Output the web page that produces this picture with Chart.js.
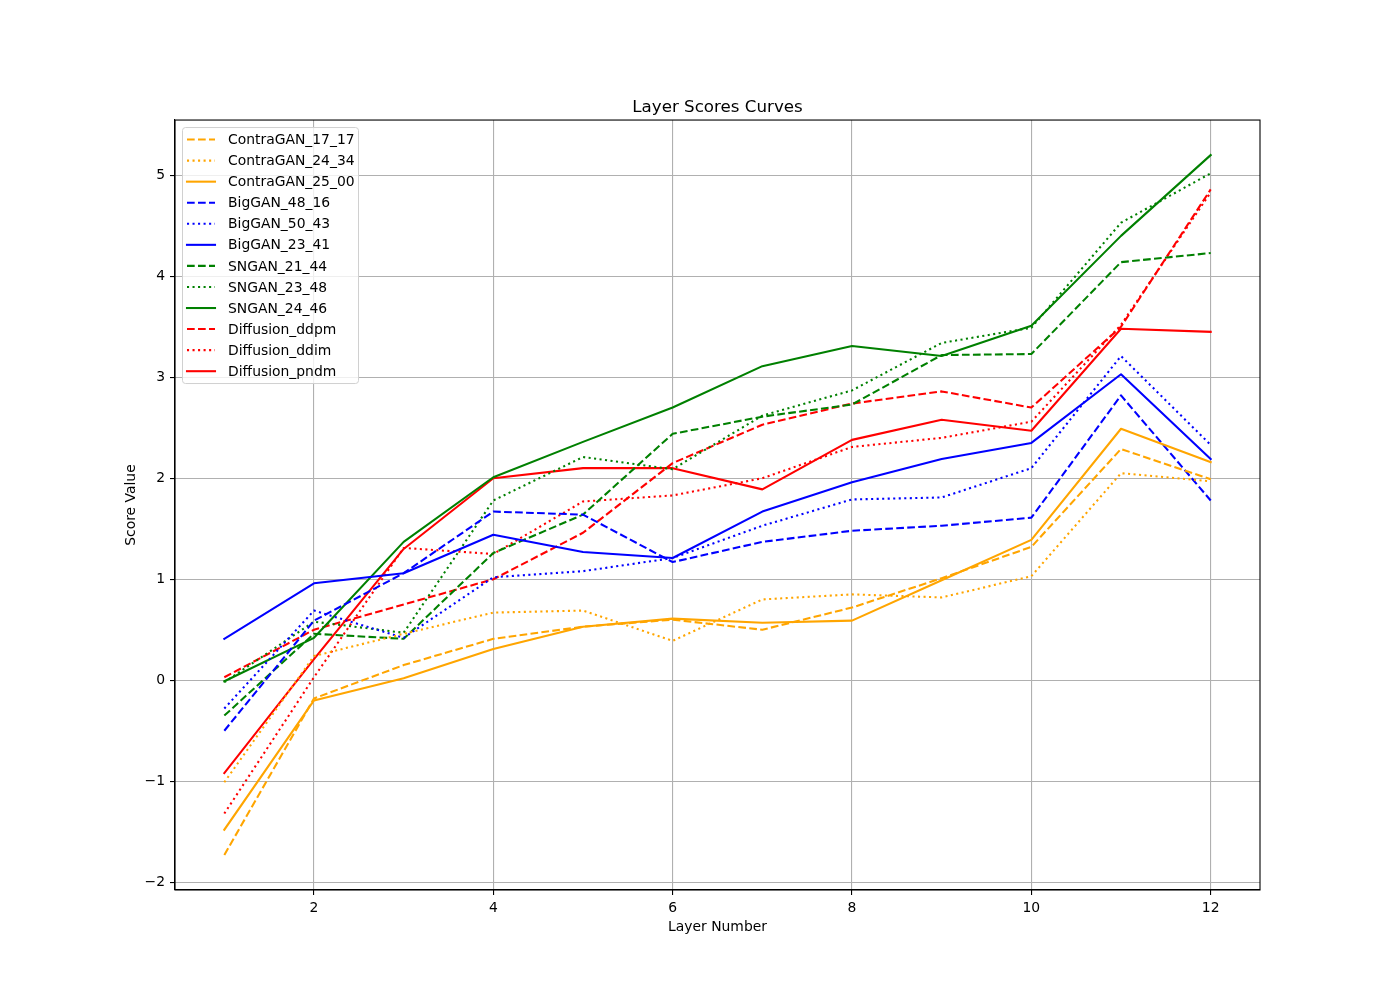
<!DOCTYPE html>
<html>
<head>
<meta charset="utf-8">
<title>Layer Scores Curves</title>
<script src="https://cdn.jsdelivr.net/npm/chart.js@4/dist/chart.umd.min.js"></script>
<style>
body { margin: 0; background: #fff; }
</style>
</head>
<body>
<canvas id="layerScores" width="1400" height="1000"></canvas>
<script>
// data
var layers = [1, 2, 3, 4, 5, 6, 7, 8, 9, 10, 11, 12];
var xTicks = [2, 4, 6, 8, 10, 12];
var yTicks = [-2, -1, 0, 1, 2, 3, 4, 5];

var contraGAN_17_17 = [-1.73, -0.18, 0.15, 0.41, 0.53, 0.60, 0.50, 0.72, 1.01, 1.32, 2.29, 1.99];
var contraGAN_24_34 = [-1.01, 0.24, 0.46, 0.67, 0.69, 0.39, 0.80, 0.85, 0.82, 1.03, 2.05, 1.97];
var contraGAN_25_00 = [-1.48, -0.20, 0.02, 0.31, 0.53, 0.61, 0.57, 0.59, 0.99, 1.39, 2.49, 2.16];
var bigGAN_48_16 = [-0.50, 0.59, 1.06, 1.67, 1.64, 1.17, 1.37, 1.48, 1.53, 1.61, 2.82, 1.78];
var bigGAN_50_43 = [-0.28, 0.69, 0.42, 1.02, 1.08, 1.21, 1.53, 1.79, 1.81, 2.10, 3.21, 2.33];
var bigGAN_23_41 = [0.41, 0.96, 1.06, 1.44, 1.27, 1.21, 1.67, 1.96, 2.19, 2.35, 3.03, 2.19];
var sngan_21_44 = [-0.35, 0.46, 0.41, 1.26, 1.64, 2.44, 2.61, 2.73, 3.22, 3.23, 4.14, 4.23];
var sngan_23_48 = [-0.02, 0.58, 0.47, 1.78, 2.21, 2.09, 2.62, 2.87, 3.34, 3.49, 4.53, 5.02];
var sngan_24_46 = [-0.01, 0.42, 1.37, 2.01, 2.36, 2.70, 3.11, 3.31, 3.21, 3.51, 4.40, 5.20];
var diffusion_ddpm = [0.03, 0.50, 0.75, 1.00, 1.46, 2.15, 2.53, 2.74, 2.86, 2.70, 3.50, 4.86];
var diffusion_ddim = [-1.32, 0.03, 1.31, 1.25, 1.77, 1.83, 2.00, 2.31, 2.40, 2.56, 3.52, 4.83];
var diffusion_pndm = [-0.92, 0.21, 1.30, 2.00, 2.10, 2.10, 1.89, 2.38, 2.58, 2.47, 3.48, 3.45];

var seriesNames = ["ContraGAN_17_17", "ContraGAN_24_34", "ContraGAN_25_00",
	"BigGAN_48_16", "BigGAN_50_43", "BigGAN_23_41",
	"SNGAN_21_44", "SNGAN_23_48", "SNGAN_24_46",
	"Diffusion_ddpm", "Diffusion_ddim", "Diffusion_pndm"];
var seriesValues = [contraGAN_17_17, contraGAN_24_34, contraGAN_25_00,
	bigGAN_48_16, bigGAN_50_43, bigGAN_23_41,
	sngan_21_44, sngan_23_48, sngan_24_46,
	diffusion_ddpm, diffusion_ddim, diffusion_pndm];

var familyColors = ["orange", "blue", "green", "red"];
var lineStyles = ["dashed", "dotted", "solid"];

var lw = 2.08; // 1.5pt at 100 dpi
var dashes = { dashed: [7.7, 3.3], dotted: [2.08, 3.44], solid: [] };

var datasets = [];
for (var i in seriesNames) {
	var style = lineStyles[i % 3];
	var pts = [];
	for (var j in layers) {
		pts.push({ x: layers[j], y: seriesValues[i][j] });
	}
	datasets.push({
		label: seriesNames[i],
		data: pts,
		borderColor: familyColors[Math.floor(i / 3)],
		backgroundColor: familyColors[Math.floor(i / 3)],
		borderWidth: lw,
		borderDash: dashes[style],
		borderCapStyle: style == "solid" ? "square" : "butt",
		borderJoinStyle: "round",
		pointRadius: 0,
		pointHoverRadius: 0,
		tension: 0,
		fill: false
	});
}

var fontFamily = "'DejaVu Sans', 'Liberation Sans', sans-serif";
Chart.defaults.font.family = fontFamily;
Chart.defaults.color = "#000";

function minusSign(v) {
	return String(v).replace("-", "\u2212");
}

// black frame on all four sides, like matplotlib spines
var framePlugin = {
	id: "frame",
	afterDatasetsDraw: function(chart) {
		var a = chart.chartArea, ctx = chart.ctx;
		ctx.save();
		ctx.strokeStyle = "#000";
		ctx.lineWidth = 1.1;
		ctx.strokeRect(a.left, a.top, a.right - a.left, a.bottom - a.top);
		ctx.restore();
	}
};

// legend box drawn inside the plot, upper left
var innerLegend = {
	id: "innerLegend",
	afterDraw: function(chart) {
		var a = chart.chartArea, ctx = chart.ctx;
		var ds = chart.data.datasets;
		var bx = a.left + 7, by = a.top + 7, bw = 176, bh = 256;
		ctx.save();
		ctx.beginPath();
		ctx.roundRect(bx + 0.5, by + 0.5, bw, bh, 3);
		ctx.fillStyle = "rgba(255,255,255,0.8)";
		ctx.fill();
		ctx.strokeStyle = "#d0d0d0";
		ctx.lineWidth = 1;
		ctx.stroke();
		ctx.font = "13.9px " + fontFamily;
		ctx.textBaseline = "middle";
		ctx.textAlign = "left";
		for (var k = 0; k < ds.length; k++) {
			var ry = a.top + 19.5 + k * 21.06;
			ctx.beginPath();
			ctx.setLineDash(ds[k].borderDash);
			ctx.lineCap = ds[k].borderCapStyle;
			ctx.lineWidth = lw;
			ctx.strokeStyle = ds[k].borderColor;
			ctx.moveTo(a.left + 12, ry);
			ctx.lineTo(a.left + 40, ry);
			ctx.stroke();
			ctx.setLineDash([]);
			ctx.fillStyle = "#000";
			ctx.fillText(ds[k].label, a.left + 53, ry + 1);
		}
		ctx.restore();
	}
};

var ctx = document.getElementById("layerScores");
var lineGraph = new Chart(ctx, {
	type: "line",
	data: { datasets: datasets },
	plugins: [framePlugin, innerLegend],
	options: {
		responsive: false,
		animation: false,
		devicePixelRatio: 1,
		layout: { padding: { left: 0, right: 140, top: 82, bottom: 0 } },
		plugins: {
			legend: { display: false },
			tooltip: { enabled: false },
			title: {
				display: true,
				text: "Layer Scores Curves",
				fullSize: false,
				font: { size: 16.7, weight: "normal" },
				color: "#000",
				padding: { top: 16, bottom: 2 }
			}
		},
		scales: {
			x: {
				type: "linear",
				min: 0.45,
				max: 12.55,
				afterBuildTicks: function(scale) {
					scale.ticks = xTicks.map(function(v) { return { value: v }; });
				},
				afterFit: function(scale) { scale.height = 110; },
				ticks: {
					autoSkip: false,
					maxRotation: 0,
					padding: 5,
					font: { size: 13.9 },
					callback: minusSign
				},
				grid: { color: "#b0b0b0", lineWidth: 1.1, tickColor: "#000", tickLength: 5, tickWidth: 1.1 },
				border: { display: true, color: "#000", width: 1.1 },
				title: {
					display: true,
					text: "Layer Number",
					font: { size: 13.9 },
					padding: { top: 0, bottom: 64.7 }
				}
			},
			y: {
				type: "linear",
				min: -2.077,
				max: 5.547,
				afterBuildTicks: function(scale) {
					scale.ticks = yTicks.map(function(v) { return { value: v }; });
				},
				afterFit: function(scale) { scale.width = 175; },
				ticks: {
					autoSkip: false,
					padding: 5,
					font: { size: 13.9 },
					callback: minusSign
				},
				grid: { color: "#b0b0b0", lineWidth: 1.1, tickColor: "#000", tickLength: 5, tickWidth: 1.1 },
				border: { display: true, color: "#000", width: 1.1 },
				title: {
					display: true,
					text: "Score Value",
					font: { size: 13.9 },
					padding: { top: 122.7, bottom: 0 }
				}
			}
		}
	}
});
</script>
</body>
</html>
